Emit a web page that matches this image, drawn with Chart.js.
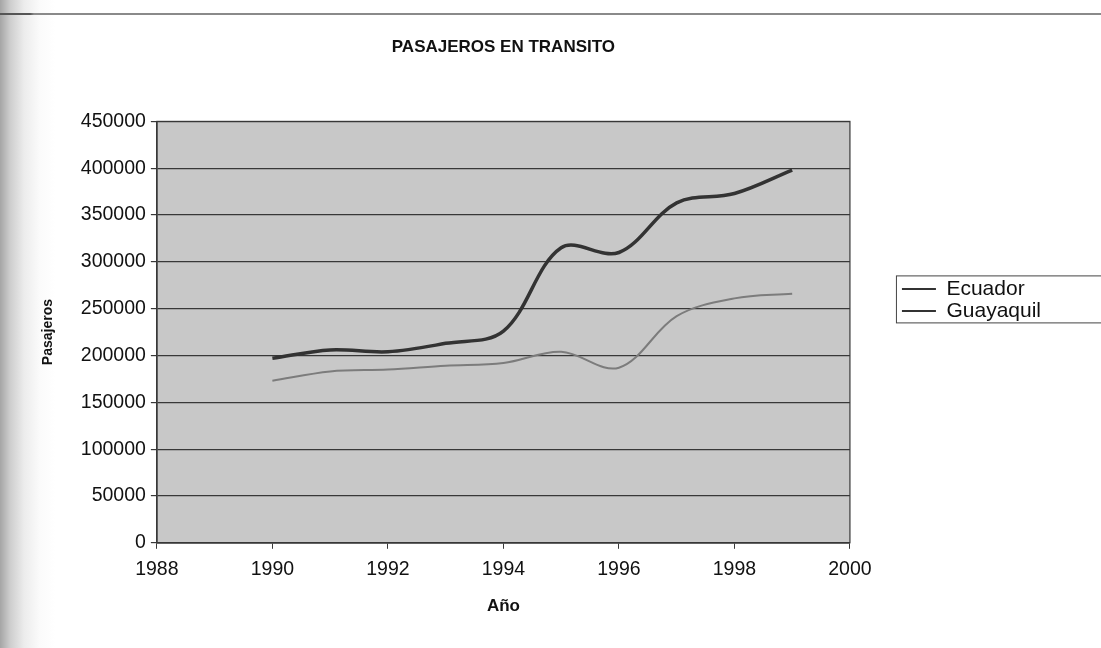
<!DOCTYPE html>
<html lang="es">
<head>
<meta charset="utf-8">
<title>Pasajeros en transito</title>
<script src="https://cdn.jsdelivr.net/npm/chart.js@4/dist/chart.umd.min.js"></script>
<style>
    html, body {
        margin: 0;
        padding: 0;
        width: 1101px;
        height: 648px;
        overflow: hidden;
        background: linear-gradient(to right, #a5a5a5 0px, #cdcdcd 10px, #ececec 24px, #fbfbfb 40px, #ffffff 55px);
    }
    #page-rule {
        position: absolute;
        left: 0;
        top: 13px;
        width: 1101px;
        height: 2px;
        background: linear-gradient(to right, #555 0px, #555 30px, #8a8a8a 34px, #8a8a8a 100%);
    }
    #chart-wrap {
        position: absolute;
        left: 0;
        top: 0;
        width: 1101px;
        height: 648px;
    }
</style>
</head>
<body>
<div id="page-rule"></div>
<div id="chart-wrap"><canvas id="chart" width="1101" height="648"></canvas></div>
<script>
// Data
const years = [1990, 1991, 1992, 1993, 1994, 1995, 1996, 1997, 1998, 1999];
const ecuador = [173000, 183000, 185000, 189000, 192000, 204000, 187000, 242000, 261000, 266000];
const guayaquil = [197000, 206000, 204000, 213000, 226000, 315000, 310000, 363000, 373000, 398000];

// Tick labels
const yearTicks = [1988, 1990, 1992, 1994, 1996, 1998, 2000];
const paxTicks = [0, 50000, 100000, 150000, 200000, 250000, 300000, 350000, 400000, 450000];

const FONT = '"Liberation Sans", Arial, sans-serif';
const INK = '#111';
const GRID = '#383838';

// Grey plot area with a frame, and a frame round the legend
const plotFrame = {
    id: 'plotFrame',
    beforeDraw(chart) {
        const { ctx, chartArea: a } = chart;
        ctx.save();
        ctx.fillStyle = '#c8c8c8';
        ctx.fillRect(a.left, a.top, a.right - a.left, a.bottom - a.top);
        ctx.restore();
    },
    beforeDatasetsDraw(chart) {
        const { ctx, chartArea: a } = chart;
        ctx.save();
        ctx.strokeStyle = GRID;
        ctx.lineWidth = 1.2;
        ctx.strokeRect(a.left, a.top, a.right - a.left, a.bottom - a.top);
        ctx.restore();
    },
    afterDraw(chart) {
        const boxes = chart.legend && chart.legend.legendHitBoxes;
        if (!boxes || !boxes.length) return;
        const first = boxes[0];
        const last = boxes[boxes.length - 1];
        const { ctx } = chart;
        ctx.save();
        ctx.strokeStyle = '#444';
        ctx.lineWidth = 1;
        const left = first.left - 5.5;
        const top = first.top - 2.5;
        const bottom = last.top + last.height + 1.5;
        ctx.strokeRect(left, top, chart.width + 5 - left, bottom - top);
        ctx.restore();
    }
};

const plain = v => String(v);

new Chart(document.getElementById('chart'), {
    type: 'line',
    data: {
        datasets: [
            {
                label: 'Ecuador',
                data: years.map((x, i) => ({ x, y: ecuador[i] })),
                borderColor: '#7c7c7c',
                backgroundColor: '#333',
                borderWidth: 2,
                tension: 0.35,
                pointRadius: 0
            },
            {
                label: 'Guayaquil',
                data: years.map((x, i) => ({ x, y: guayaquil[i] })),
                borderColor: '#333',
                backgroundColor: '#333',
                borderWidth: 3.5,
                tension: 0.35,
                pointRadius: 0
            }
        ]
    },
    options: {
        responsive: false,
        animation: false,
        layout: { padding: { left: 0, top: 0, right: 50, bottom: 31 } },
        plugins: {
            title: {
                display: true,
                text: 'PASAJEROS EN TRANSITO',
                fullSize: false,
                color: INK,
                font: { family: FONT, size: 17, weight: 'bold' },
                padding: { top: 37, bottom: 64 }
            },
            legend: {
                position: 'right',
                align: 'start',
                title: { display: true, text: '', padding: { top: 263, bottom: 0 } },
                labels: {
                    color: INK,
                    font: { family: FONT, size: 21 },
                    boxWidth: 34,
                    boxHeight: 2,
                    padding: 1,
                    generateLabels(chart) {
                        const items = Chart.defaults.plugins.legend.labels.generateLabels(chart);
                        items.forEach(item => {
                            item.fillStyle = '#333';
                            item.strokeStyle = '#333';
                            item.lineWidth = 0;
                        });
                        return items;
                    }
                }
            },
            tooltip: { enabled: false }
        },
        scales: {
            x: {
                type: 'linear',
                min: 1988,
                max: 2000,
                afterBuildTicks: scale => { scale.ticks = yearTicks.map(value => ({ value })); },
                grid: { drawOnChartArea: false, drawTicks: true, tickLength: 6, color: GRID },
                border: { color: GRID, width: 1.5 },
                ticks: {
                    color: INK,
                    font: { family: FONT, size: 19.5 },
                    padding: 9,
                    maxRotation: 0,
                    callback: plain
                },
                title: {
                    display: true,
                    text: 'Año',
                    color: INK,
                    font: { family: FONT, size: 17, weight: 'bold' },
                    padding: { top: 6.4, bottom: 0 }
                }
            },
            y: {
                min: 0,
                max: 450000,
                afterBuildTicks: scale => { scale.ticks = paxTicks.map(value => ({ value })); },
                grid: { color: GRID, lineWidth: 1.2, drawTicks: true, tickLength: 6 },
                border: { color: GRID, width: 1.5 },
                ticks: {
                    color: INK,
                    font: { family: FONT, size: 19.5 },
                    padding: 5,
                    callback: plain
                },
                title: {
                    display: true,
                    text: 'Pasajeros',
                    color: INK,
                    font: { family: FONT, size: 14, weight: 'bold' },
                    padding: { top: 40, bottom: 19 }
                }
            },
            // empty right-hand scale, only keeps a gap before the legend
            gap: {
                type: 'linear',
                position: 'right',
                display: true,
                grid: { display: false },
                border: { display: false },
                ticks: { display: false },
                afterFit: scale => { scale.width = 51; }
            }
        }
    },
    plugins: [plotFrame]
});
</script>
</body>
</html>
